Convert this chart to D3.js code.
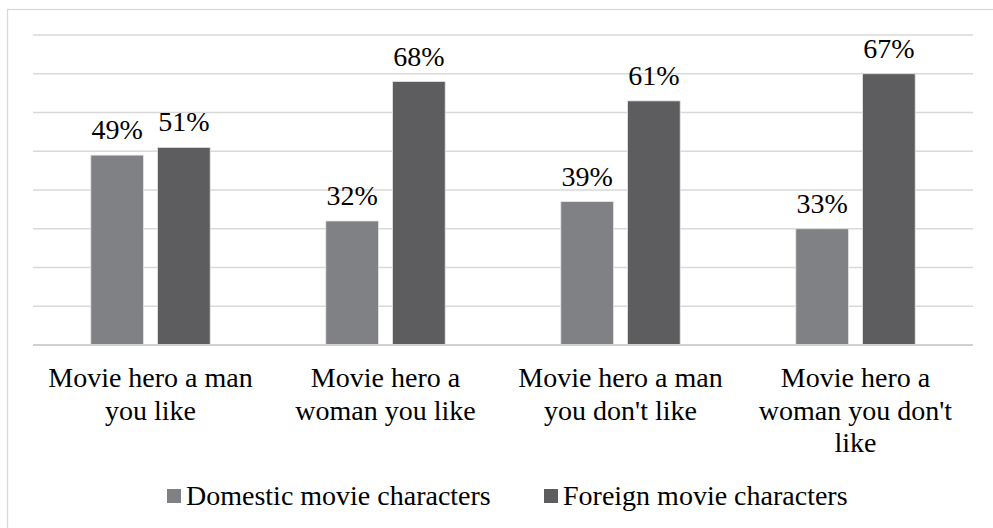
<!DOCTYPE html>
<html>
<head>
<meta charset="utf-8">
<script src="https://cdn.jsdelivr.net/npm/d3@7"></script>
</head>
<body style="margin:0">
<div id="chart"></div>
<script>
// Chart data
const categories = [
  "Movie hero a man you like",
  "Movie hero a woman you like",
  "Movie hero a man you don't like",
  "Movie hero a woman you don't like"
];
// line breaks of the category labels
const categoryLines = [
  ["Movie hero a man", "you like"],
  ["Movie hero a", "woman you like"],
  ["Movie hero a man", "you don't like"],
  ["Movie hero a", "woman you don't", "like"]
];
const seriesNames = ["Domestic movie characters", "Foreign movie characters"];
// bar heights as drawn in the picture
const domestic = [49, 32, 37, 30];
const foreign = [51, 68, 63, 70];
// labels printed above the bars
const domesticLabels = ["49%", "32%", "39%", "33%"];
const foreignLabels = ["51%", "68%", "61%", "67%"];
const yTicks = [0, 10, 20, 30, 40, 50, 60, 70, 80];

const colors = ["#808184", "#5d5d5f"];
const fontFamily = '"Liberation Serif", "Tinos", "Times New Roman", "Nimbus Roman", "FreeSerif", sans-serif';

// Define "SVG"
const svgWidth = 993;
const svgHeight = 528;

const margin = { top: 35, right: 20, bottom: 183, left: 33 };
const chartWidth = 973 - margin.left;
const chartHeight = 345 - margin.top;

const svg = d3.select("#chart")
  .append("svg")
  .attr("width", svgWidth)
  .attr("height", svgHeight)
  .style("font-family", fontFamily);

// outer frame
svg.append("rect")
  .attr("x", 7.5)
  .attr("y", 9.5)
  .attr("width", 1000)
  .attr("height", 540)
  .attr("fill", "none")
  .attr("stroke", "#d9d9d9")
  .attr("stroke-width", 1.3);

const chartGroup = svg.append("g")
  .attr("transform", `translate(${margin.left}, ${margin.top})`);

// scales
const x0 = d3.scaleBand()
  .domain(categories)
  .range([0, chartWidth]);

const yLinearScale = d3.scaleLinear()
  .domain([0, 80])
  .range([chartHeight, 0]);

const barWidth = x0.bandwidth() * 0.224;
const barOffset = x0.bandwidth() * 0.142;

// gridlines
chartGroup.selectAll(".grid")
  .data(yTicks.slice(1))
  .enter()
  .append("line")
  .attr("x1", 0)
  .attr("x2", chartWidth)
  .attr("y1", d => yLinearScale(d))
  .attr("y2", d => yLinearScale(d))
  .attr("stroke", "#d9d9d9")
  .attr("stroke-width", 1.3);

// build rows per series
const series = [[domestic, domesticLabels], [foreign, foreignLabels]].map(([vals, labels], i) =>
  vals.map((v, j) => ({ cat: categories[j], value: v, label: labels[j], s: i }))
);

const barX = d => x0(d.cat) + x0.bandwidth() / 2 + (d.s === 0 ? -barOffset : barOffset) - barWidth / 2;

series.forEach(rows => {
  chartGroup.selectAll(null)
    .data(rows)
    .enter()
    .append("rect")
    .attr("x", barX)
    .attr("y", d => yLinearScale(d.value))
    .attr("width", barWidth)
    .attr("height", d => chartHeight - yLinearScale(d.value))
    .attr("fill", d => colors[d.s])
    .attr("stroke", "#e4e4e4")
    .attr("stroke-width", 0.8);

  // value labels
  chartGroup.selectAll(null)
    .data(rows)
    .enter()
    .append("text")
    .attr("x", d => barX(d) + barWidth / 2)
    .attr("y", d => yLinearScale(d.value) - 16)
    .attr("text-anchor", "middle")
    .attr("font-size", 28)
    .style("font-family", fontFamily)
    .text(d => d.label);
});

// baseline
chartGroup.append("line")
  .attr("x1", 0)
  .attr("x2", chartWidth)
  .attr("y1", yLinearScale(0))
  .attr("y2", yLinearScale(0))
  .attr("stroke", "#d0d0d0")
  .attr("stroke-width", 2);

// category labels
const catText = chartGroup.selectAll(".catLabel")
  .data(categories)
  .enter()
  .append("text")
  .attr("class", "catLabel")
  .attr("x", d => x0(d) + x0.bandwidth() / 2)
  .attr("y", chartHeight + 42)
  .attr("text-anchor", "middle")
  .attr("font-size", 28)
  .style("font-family", fontFamily);

catText.selectAll("tspan")
  .data((d, i) => categoryLines[i].map(l => ({ l, cat: d })))
  .enter()
  .append("tspan")
  .attr("x", d => x0(d.cat) + x0.bandwidth() / 2)
  .attr("dy", (d, i) => i === 0 ? 0 : 32.5)
  .text(d => d.l);

// legend
const legendX = [167, 544];
const legend = svg.selectAll(".legend")
  .data(seriesNames)
  .enter()
  .append("g")
  .attr("transform", (d, i) => `translate(${legendX[i]}, 489)`);

legend.append("rect")
  .attr("width", 14)
  .attr("height", 14)
  .attr("fill", (d, i) => colors[i]);

legend.append("text")
  .attr("x", 19)
  .attr("y", 16)
  .attr("font-size", 28)
  .style("font-family", fontFamily)
  .text(d => d);
</script>
</body>
</html>
